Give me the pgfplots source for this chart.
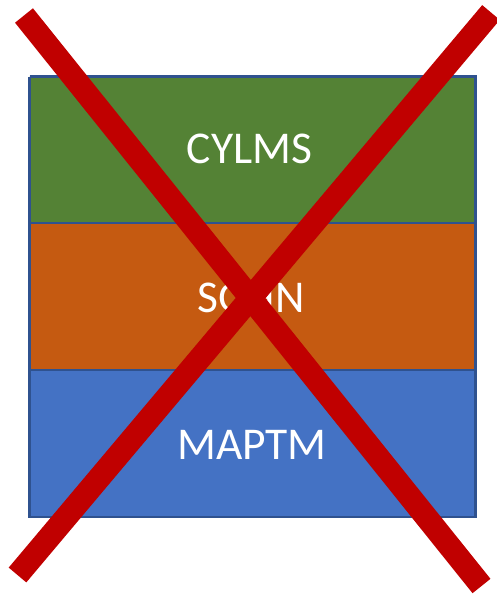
\documentclass[border=0pt]{standalone}
\usepackage{pgfplots}
\pgfplotsset{compat=1.18}
\usepackage{fontspec}
\setmainfont{Carlito}
\definecolor{cgreen}{HTML}{548235}
\definecolor{corange}{HTML}{C55A11}
\definecolor{cblue}{HTML}{4472C4}
\definecolor{cborder}{HTML}{2F528F}
\definecolor{cred}{HTML}{C00000}
\begin{document}
\begin{tikzpicture}
\begin{axis}[
  width=497pt, height=594pt, scale only axis,
  xmin=0, xmax=497, ymin=0, ymax=594, y dir=reverse,
  hide axis, clip=true,
]
% boxes (top, middle, bottom)
\addplot[fill=cgreen, draw=cborder, line width=2.5pt] coordinates {(29.5,76.5) (475.5,76.5) (475.5,223) (29.5,223) (29.5,76.5)};
\addplot[fill=corange, draw=cborder, line width=2.5pt] coordinates {(29.5,223) (475.5,223) (475.5,370) (29.5,370) (29.5,223)};
\addplot[fill=cblue, draw=cborder, line width=2.5pt] coordinates {(29.5,370) (475.5,370) (475.5,517) (29.5,517) (29.5,370)};
\node[text=white, font=\fontsize{45.5}{50}\selectfont] at (axis cs:249.5,149) {CYLMS};
\node[text=white, font=\fontsize{45.5}{50}\selectfont] at (axis cs:251,298) {SGHN};
\node[text=white, font=\fontsize{45.5}{50}\selectfont] at (axis cs:252,444.5) {MAPTM};
% red cross
\addplot[cred, line width=23pt, line cap=butt] coordinates {(24,15.5) (481.5,586)};
\addplot[cred, line width=23pt, line cap=butt] coordinates {(491,12.5) (17.5,575)};
\end{axis}
\pgfresetboundingbox
\useasboundingbox (current axis.south west) rectangle (current axis.north east);
\end{tikzpicture}
\end{document}
